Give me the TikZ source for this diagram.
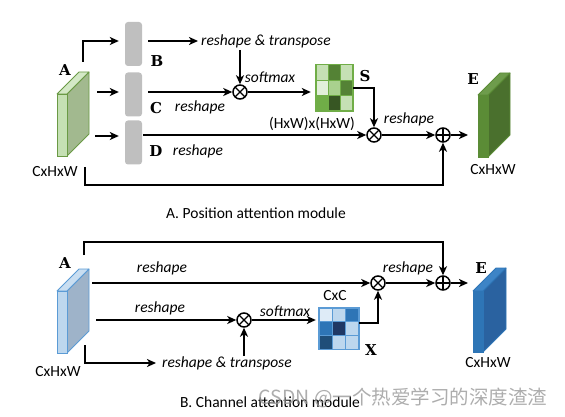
\documentclass[tikz,border=0pt]{standalone}
\usepackage{fontspec}
\setmainfont{Carlito}
\newfontfamily\lblfont{DejaVu Serif}
\newfontfamily\cjkfont{Noto Sans CJK SC}
\usetikzlibrary{arrows.meta}

\definecolor{barGray}{HTML}{BFBFBF}
\definecolor{gAfront}{HTML}{C5E0B4}
\definecolor{gAtop}{HTML}{D3E8C6}
\definecolor{gAside}{HTML}{A2B98F}
\definecolor{gAedge}{HTML}{6A9A45}
\definecolor{gEfront}{HTML}{5B8C36}
\definecolor{gEtop}{HTML}{6E9C4C}
\definecolor{gEside}{HTML}{4A702D}
\definecolor{gEedge}{HTML}{5B8C36}
\definecolor{bAfront}{HTML}{BDD7EE}
\definecolor{bAtop}{HTML}{C9DEF1}
\definecolor{bAside}{HTML}{9EB3C9}
\definecolor{bAedge}{HTML}{5B9BD5}
\definecolor{bEfront}{HTML}{2E75B6}
\definecolor{bEtop}{HTML}{3D84C6}
\definecolor{bEside}{HTML}{2A62A0}
\definecolor{bEedge}{HTML}{2E75B6}
\definecolor{gS0}{HTML}{E2EFDA}
\definecolor{gS1}{HTML}{C5E0B4}
\definecolor{gS2}{HTML}{A9D18E}
\definecolor{gS3}{HTML}{548235}
\definecolor{gS4}{HTML}{70AD47}
\definecolor{gS5}{HTML}{375623}
\definecolor{gSline}{HTML}{70AD47}
\definecolor{bX0}{HTML}{DEEBF7}
\definecolor{bX1}{HTML}{BDD7EE}
\definecolor{bX2}{HTML}{2E75B6}
\definecolor{bX3}{HTML}{203864}
\definecolor{bX4}{HTML}{1F4E79}
\definecolor{bXline}{HTML}{5B9BD5}
\definecolor{wmgray}{HTML}{999999}

% feature map slab: x left, y top, y bottom, depth, colour prefix
\newcommand{\featslab}[5]{%
\filldraw[fill=#5side, draw=#5edge, line width=0.8pt, line join=round] (#1+10,#2) -- (#1+10+#4,#2-#4) -- (#1+10+#4,#3-#4) -- (#1+10,#3) -- cycle;
\filldraw[fill=#5top, draw=#5edge, line width=0.8pt, line join=round] (#1,#2) -- (#1+10,#2) -- (#1+10+#4,#2-#4) -- (#1+#4,#2-#4) -- cycle;
\filldraw[fill=#5front, draw=#5edge, line width=0.8pt] (#1,#2) rectangle (#1+10,#3);
}

\tikzset{
arr/.style={-{Stealth[length=9pt,width=8pt,inset=2.5pt]}, line width=1.8pt},
opmul/.style={circle, draw, line width=1.5pt, minimum size=14pt, inner sep=0pt, fill=white,
  path picture={\draw[line width=1.3pt] (path picture bounding box.north west) -- (path picture bounding box.south east)
  (path picture bounding box.north east) -- (path picture bounding box.south west);}},
opadd/.style={circle, draw, line width=1.5pt, minimum size=14pt, inner sep=0pt, fill=white,
  path picture={\draw[line width=1.3pt] (path picture bounding box.north) -- (path picture bounding box.south)
  (path picture bounding box.west) -- (path picture bounding box.east);}},
convbar/.style={rounded corners=3pt, fill=barGray, minimum width=17pt, minimum height=44pt, inner sep=0pt},
lbl/.style={font=\lblfont\bfseries\fontsize{15}{15}\selectfont, inner sep=0pt},
txt/.style={font=\fontsize{15.5}{18}\selectfont, inner sep=0pt},
itxt/.style={font=\fontsize{15.5}{18}\selectfont\itshape, inner sep=0pt},
}

\begin{document}
\begin{tikzpicture}[x=1pt,y=-1pt]
\useasboundingbox (0,0) rectangle (565,417);

% A. position attention module
\featslab{57}{94}{156}{22}{gA}
\node[lbl] (lA1) at (65,70) {A};
\node[txt] (dA1) at (55,172) {CxHxW};

\node[convbar] (Bbar) at (133.5,44) {};
\node[convbar] (Cbar) at (133.5,94.5) {};
\node[convbar] (Dbar) at (133.5,142.5) {};
\node[lbl] (lB) at (157,61) {B};
\node[lbl] (lC) at (156,108) {C};
\node[lbl] (lD) at (156,151) {D};

\coordinate (a1) at (83,62);
\coordinate (a2) at (97,92);
\coordinate (a3) at (95,136);
\draw[arr, shorten >=6pt] (a1) |- (Bbar.west |- 0,41);
\draw[arr, shorten >=6pt] (a2) -- (Cbar.west |- a2);
\draw[arr, shorten >=6pt] (a3) -- (Dbar.west |- a3);

\node[itxt, anchor=west] (rtA) at (201,41) {reshape \& transpose};
\node[opmul] (m1) at (240,92) {};
\draw[arr, shorten <=6pt, shorten >=3pt] (Bbar.east |- rtA) -- (rtA.west);
\draw[arr, shorten <=2pt] (rtA.south -| m1) -- (m1);
\draw[arr, shorten <=6pt] (Cbar.east |- m1) -- (m1);
\node[itxt] (rsC) at (200,107) {reshape};

% S matrix
\node[minimum width=37pt, minimum height=46pt, inner sep=0pt] (Smat) at (334.5,88) {};
\foreach \cx/\cy/\cc in {0/0/gS1, 1/0/gS3, 2/0/gS1, 0/1/gS0, 1/1/gS2, 2/1/gS3, 0/2/gS4, 1/2/gS5, 2/2/gS1}
  \filldraw[fill=\cc, draw=gSline, line width=0.6pt] (Smat.north west) ++(\cx*12.33,\cy*15.33) rectangle ++(12.33,15.33);
\draw[gSline, line width=1pt] (Smat.north west) rectangle (Smat.south east);
\node[itxt] (smA) at (270,77) {softmax};
\draw[arr, shorten >=5pt] (m1) -- (m1 -| Smat.west);
\node[lbl] (lS) at (365,76) {S};

\node[opmul] (m2) at (374,135) {};
\draw[arr] (Smat.east) -| (m2);
\draw[arr, shorten <=1pt] (Dbar.east |- m2) -- (m2);
\node[txt] (hw) at (312,124) {(HxW)x(HxW)};
\node[itxt] (rsD) at (198,151) {reshape};

\node[opadd] (p1) at (443,135) {};
\draw[arr] (m2) -- (p1);
\node[itxt] (rsA) at (409,119) {reshape};
\coordinate (eA) at (468,135);
\draw[arr] (p1) -- (eA);
\featslab{478}{95}{157}{22}{gE}
\node[lbl] (lE1) at (473,79) {E};
\node[txt] (dE1) at (493,170) {CxHxW};

\coordinate (s1) at (85,167);
\draw[arr] (s1) |- (p1 |- 0,185) -- (p1);

\node[txt] (capA) at (256,213) {A. Position attention module};

% B. channel attention module
\featslab{57}{291}{353}{22}{bA}
\node[lbl] (lA2) at (65,263) {A};
\node[txt] (dA2) at (58,372) {CxHxW};

\node[opmul] (m3) at (378,283) {};
\node[opadd] (p2) at (443,283) {};
\node[opmul] (m4) at (244,320) {};

\coordinate (s2) at (84,255);
\draw[arr] (s2) |- (p2 |- 0,242) -- (p2);
\coordinate (b1) at (92,283);
\draw[arr] (b1) -- (m3);
\node[itxt] (rsB1) at (162,268) {reshape};
\coordinate (b2) at (96,320);
\draw[arr] (b2) -- (m4);
\node[itxt] (rsB2) at (160,308) {reshape};
\coordinate (b3) at (85,345);
\node[itxt, anchor=west] (rtB) at (162,363) {reshape \& transpose};
\draw[arr, shorten >=6pt] (b3) |- (rtB.west);
\draw[arr] (rtB.north -| m4) -- (m4);

% X matrix
\node[minimum width=40pt, minimum height=41pt, inner sep=0pt] (Xmat) at (339,328.5) {};
\foreach \cx/\cy/\cc in {0/0/bX0, 1/0/bX1, 2/0/bX2, 0/1/bX2, 1/1/bX3, 2/1/bX1, 0/2/bX4, 1/2/bX1, 2/2/bX1}
  \filldraw[fill=\cc, draw=bXline, line width=0.6pt] (Xmat.north west) ++(\cx*13.33,\cy*13.67) rectangle ++(13.33,13.67);
\draw[bXline, line width=1pt] (Xmat.north west) rectangle (Xmat.south east);
\node[itxt] (smB) at (285,311) {softmax};
\draw[arr, shorten >=3pt] (m4) -- (m4 -| Xmat.west);
\node[txt] (cc) at (335,296) {CxC};
\node[lbl] (lX) at (371,350) {X};
\draw[arr] (Xmat.east |- 0,323) -| (m3);

\draw[arr] (m3) -- (p2);
\node[itxt] (rsB3) at (408,268) {reshape};
\coordinate (eB) at (468,283);
\draw[arr] (p2) -- (eB);
\featslab{473}{291}{352}{23}{bE}
\node[lbl] (lE2) at (481,268) {E};
\node[txt] (dE2) at (488,363) {CxHxW};

\node[txt] (capB) at (270,402) {B. Channel attention module};
\node[font=\cjkfont\fontsize{19.5}{20}\selectfont, text=wmgray, text opacity=0.8, inner sep=0pt] (wm) at (403,398) {CSDN @一个热爱学习的深度渣渣};

\end{tikzpicture}
\end{document}
